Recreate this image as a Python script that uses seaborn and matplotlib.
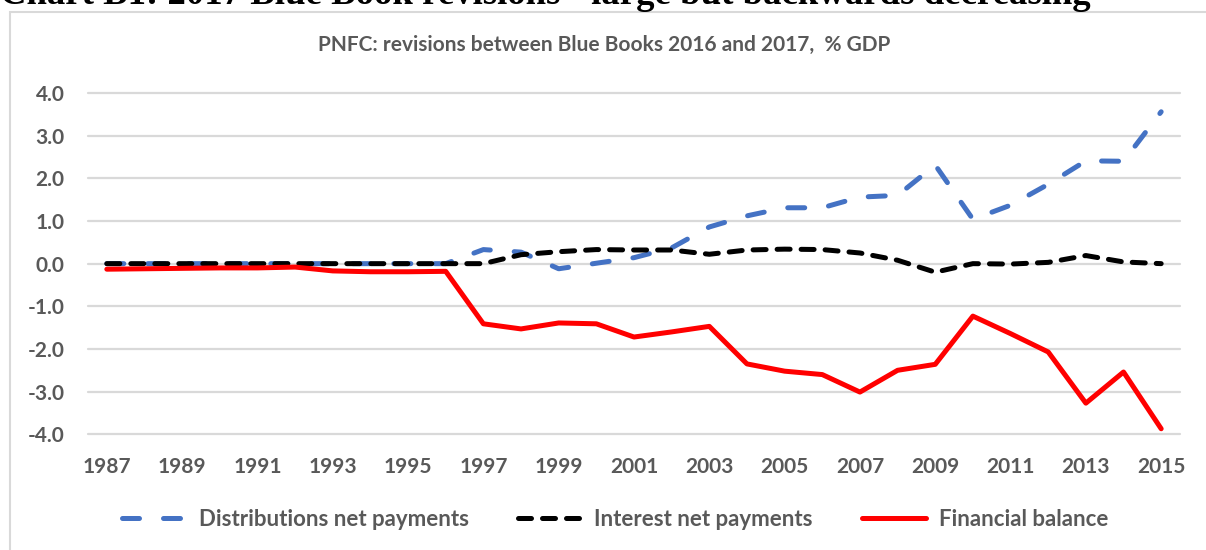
import numpy as np
import pandas as pd
import matplotlib
matplotlib.use("Agg")
import matplotlib.pyplot as plt
from matplotlib.patches import Rectangle
import seaborn as sns

# -------------------- data --------------------
years = list(range(1987, 2016))
tick_years = list(range(1987, 2016, 2))
y_ticks = [-4.0, -3.0, -2.0, -1.0, 0.0, 1.0, 2.0, 3.0, 4.0]

distributions = [0.0, 0.0, 0.0, 0.0, 0.0, 0.0, 0.0, 0.0, 0.0, 0.0,
                 0.33, 0.27, -0.12, 0.01, 0.14, 0.37, 0.86, 1.12, 1.31, 1.31,
                 1.56, 1.60, 2.31, 1.04, 1.37, 1.86, 2.41, 2.40, 3.56]
interest = [0.0, 0.0, 0.0, 0.0, 0.0, 0.0, 0.0, 0.0, 0.0, 0.0,
            0.0, 0.21, 0.28, 0.33, 0.32, 0.32, 0.22, 0.32, 0.34, 0.33,
            0.25, 0.08, -0.20, 0.0, -0.01, 0.03, 0.19, 0.04, 0.0]
fin_balance = [-0.13, -0.12, -0.11, -0.10, -0.10, -0.08, -0.17, -0.19, -0.19, -0.18,
               -1.41, -1.53, -1.39, -1.41, -1.72, -1.60, -1.47, -2.35, -2.52, -2.60,
               -3.01, -2.50, -2.36, -1.23, -1.64, -2.07, -3.27, -2.54, -3.87]

labels = ["Distributions net payments", "Interest net payments", "Financial balance"]

title = "Chart B1: 2017 Blue Book revisions - large but backwards decreasing"
subtitle = "PNFC: revisions between Blue Books 2016 and 2017,  % GDP"

df = pd.DataFrame({"year": years, labels[0]: distributions,
                   labels[1]: interest, labels[2]: fin_balance})

# -------------------- style --------------------
sns.set_style("white")
plt.rcParams['font.family'] = ['Lato', 'DejaVu Sans']
grey_txt = "#595959"
grid_col = "#D9D9D9"

fig = plt.figure(figsize=(12.06, 5.5), dpi=100)
ax = fig.add_axes([88 / 1206, 1 - 434.3 / 550, (1180 - 88) / 1206, (434.3 - 93) / 550])

# chart border (cut by the picture edges)
fig.patches.append(Rectangle((10 / 1206, -0.1), 1.2, 1.1 - 12 / 550,
                             transform=fig.transFigure, fill=False,
                             edgecolor=grid_col, linewidth=1.5, zorder=0))

# gridlines
for v in y_ticks:
    ax.axhline(v, color=grid_col, linewidth=1.6, zorder=1, clip_on=False)

styles = [
    dict(color="#4472C4", linestyle=(0, (3.4, 4.8))),
    dict(color="black", linestyle=(0, (2.6, 2.2))),
    dict(color="#FF0000", linestyle="-"),
]
for lab, st in zip(labels, styles):
    sns.lineplot(data=df, x="year", y=lab, ax=ax, linewidth=3.6,
                 dash_capstyle="round", solid_capstyle="round",
                 label=lab, zorder=3, **st)

ax.set_xlim(1986.5, 2015.5)
ax.set_ylim(-4, 4)
ax.set_xticks(tick_years)
ax.set_xticklabels([str(y) for y in tick_years])
ax.set_yticks(y_ticks)
ax.set_yticklabels([f"{v:.1f}" for v in y_ticks])
ax.tick_params(axis="both", length=0, labelsize=15, labelcolor=grey_txt)
ax.tick_params(axis="y", pad=17)
ax.tick_params(axis="x", pad=16)
for lbl in ax.get_xticklabels() + ax.get_yticklabels():
    lbl.set_fontweight("bold")
ax.set_xlabel("")
ax.set_ylabel("")
sns.despine(ax=ax, left=True, bottom=True)

# legend at the bottom
handles, labs = ax.get_legend_handles_labels()
ax.legend_.remove()
fig.legend(handles, labs, loc="center", bbox_to_anchor=(0.510, 1 - 519 / 550),
           ncol=3, frameon=False, handlelength=2.9, handletextpad=0.55,
           columnspacing=2.2, prop={"weight": "bold", "size": 16},
           labelcolor=grey_txt)

fig.text(0.501, 1 - 45 / 550, subtitle, ha="center", va="center",
         fontsize=15, fontweight="bold", color=grey_txt)
fig.text(0.0, 1 - 4 / 550, title, ha="left", va="baseline",
         fontsize=26.5, fontweight="bold", family=["Liberation Serif", "DejaVu Serif"],
         color="black")

fig.savefig("out.png", dpi=100)
